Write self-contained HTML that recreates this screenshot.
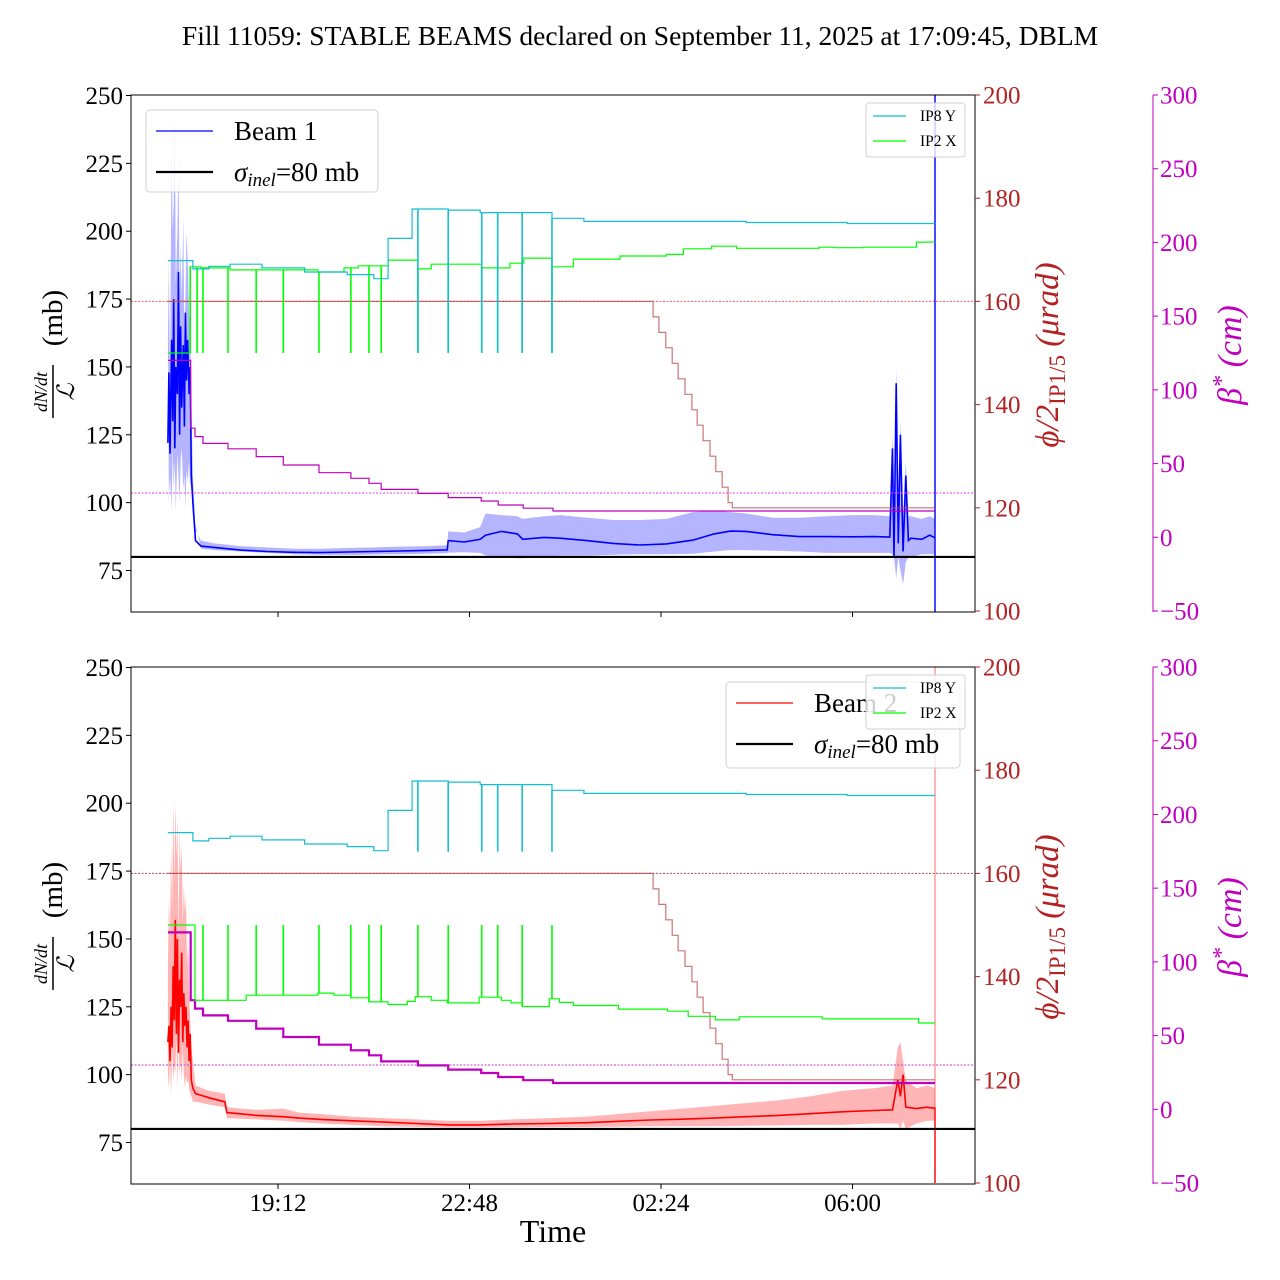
<!DOCTYPE html>
<html><head><meta charset="utf-8"><style>
html,body{margin:0;padding:0;background:#fff;}
svg{display:block;font-family:"Liberation Serif",serif;}
</style></head><body>
<svg id="chart" width="1280" height="1280" viewBox="0 0 1280 1280" xmlns="http://www.w3.org/2000/svg">
<defs>
<clipPath id="clipTop"><rect x="131" y="95" width="844" height="517"/></clipPath>
<clipPath id="clipBot"><rect x="131" y="667" width="844" height="516"/></clipPath>
</defs>
<rect width="1280" height="1280" fill="#fff"/>
<text x="640" y="45" font-size="27.5" text-anchor="middle">Fill 11059: STABLE BEAMS declared on September 11, 2025 at 17:09:45, DBLM</text>
<g id="layer"></g>
</svg>
<script>
// ---- data (time in hours since midnight Sep 11, >24 = next day) ----
const xTickVals = [19.2, 22.8, 26.4, 30.0];
const xTickLabels = ["19:12", "22:48", "02:24", "06:00"];
const mbTicks = [75, 100, 125, 150, 175, 200, 225, 250];
const phiTicks = [100, 120, 140, 160, 180, 200];
const betaTicks = [-50, 0, 50, 100, 150, 200, 250, 300];
const sigmaInel = 80;
const endT = 31.55;
const phiRef = 160;
const betaRef = 30;

const ip8yT = [17.13, 17.6, 17.9, 18.3, 18.9, 19.7, 20.5, 21.0, 21.27, 21.72, 22.4, 23.0, 24.35, 24.95, 28.0, 29.9];
const ip8yV = [167.9, 166.3, 166.8, 167.2, 166.5, 165.7, 165.2, 164.4, 172.2, 177.9, 177.7, 177.2, 176.1, 175.5, 175.3, 175.1];
const ip8ySpikeT = [21.83, 22.40, 23.03, 23.33, 23.79, 24.35];
const ip8ySpikeTop = 150;
const ip8ySpikeBot = 164.2;

const ip2xTopT = [17.13, 17.55, 17.75, 18.3, 19.95, 20.44, 20.71, 21.27, 21.83, 22.08, 23.03, 23.56, 23.82, 24.35, 24.75, 25.63, 26.5, 26.82, 27.35, 27.82, 29.37, 29.66, 30.19, 31.2];
const ip2xTopV = [150, 166.7, 166.5, 166.1, 165.7, 166.5, 166.9, 168.0, 166.3, 167.2, 166.5, 167.4, 168.4, 166.7, 168.2, 168.8, 169.1, 170.2, 170.7, 170.3, 170.5, 170.4, 170.5, 171.5];
const ip2xBotT = [17.13, 17.64, 18.6, 19.95, 20.25, 20.57, 20.91, 21.27, 21.63, 21.78, 22.08, 22.38, 22.98, 23.4, 23.58, 23.79, 24.3, 24.49, 24.75, 25.6, 26.52, 26.91, 27.42, 27.87, 29.43, 31.24];
const ip2xBotV = [150, 135.4, 136.4, 136.8, 136.4, 135.9, 135.1, 134.6, 135.2, 136.1, 135.4, 134.9, 136.0, 135.4, 134.9, 134.2, 135.7, 135.0, 134.4, 133.7, 133.3, 132.3, 131.6, 132.2, 131.8, 131.0];
const ip2xSpikeTopT = [17.55, 17.68, 17.79, 18.26, 18.79, 19.30, 19.97, 20.57, 20.91, 21.14, 21.83, 22.40, 23.03, 23.33, 23.79, 24.35];
const ip2xSpikeBotT = [17.79, 18.26, 18.79, 19.30, 19.97, 20.57, 20.91, 21.14, 21.83, 22.40, 23.03, 23.33, 23.79, 24.35];
const ip2xSpikeVal = 150;

const phiT = [17.13, 26.25, 26.36, 26.49, 26.61, 26.72, 26.85, 26.98, 27.08, 27.19, 27.32, 27.43, 27.55, 27.66, 27.74];
const phiV = [160, 157, 154, 151, 148, 145, 142, 139, 136, 133, 130, 127, 124, 121, 120];

const betaT = [17.13, 17.56, 17.64, 17.79, 18.26, 18.79, 19.3, 19.97, 20.57, 20.91, 21.14, 21.83, 22.4, 23.02, 23.34, 23.81, 24.37];
const betaV = [120, 74, 68.3, 63.7, 60, 54.7, 49, 43.8, 40, 36.6, 32.5, 29.8, 26.9, 24.6, 21.9, 19.7, 17.8];

const b1T = [17.13,17.15,17.17,17.20,17.22,17.24,17.26,17.28,17.31,17.33,17.35,17.37,17.39,17.42,17.44,17.46,17.48,17.50,17.53,17.55,17.57,
  17.6,17.65,17.75,18.0,18.5,19.0,19.5,20.0,20.5,21.0,21.5,22.0,22.38,22.40,22.7,23.0,23.1,23.4,23.7,23.8,24.2,24.5,25.0,25.5,26.0,26.5,27.0,27.4,27.7,28.0,28.5,29.0,29.5,30.0,30.4,30.7,30.75,30.78,30.82,30.86,30.9,30.95,31.0,31.05,31.1,31.3,31.45,31.55];
const b1V = [122,148,118,160,130,175,120,150,140,185,125,165,135,158,128,170,145,160,140,150,110,
  100,86,84,83.5,82.5,82,81.7,81.6,81.8,82,82.2,82.4,82.6,86,85.5,86.5,88,89.4,88.5,86.5,87.2,86.9,86,85,84.4,84.8,86.2,88.5,89.5,89.4,88.2,87.5,87.5,87.4,87.5,87.3,120,80,144,85,125,82,110,86,86.9,86.5,88,87];
const b1Hi = [160,190,140,235,200,210,248,180,200,230,170,195,175,205,160,175,200,190,170,165,140,
  110,90,86,85,84,83.5,83,83,83.3,83.5,83.8,84,84.3,89.4,89,91,96,95.4,95,94,95,95.4,94.5,93.6,93.6,94,96.5,97,96.5,96,94.4,94.4,95,95.4,95.4,95,125,95,150,100,130,95,115,95,95,94,95,94];
const b1Lo = [100,110,98,120,105,115,97,118,110,100,115,120,105,110,98,112,108,115,105,110,95,
  92,83,82.5,82,81.5,81,80.8,80.7,80.9,81,81.2,81.4,81.6,81.7,81.5,80.5,80,79.5,79.5,80,80.5,80.5,80.8,81,81,81.2,82,82.5,82.5,82.3,82,81.5,81.5,81.5,81.5,81,80,72,80,75,70,78,80,80,81,81,81];

const b2T = [17.13,17.15,17.17,17.19,17.21,17.23,17.25,17.27,17.29,17.31,17.33,17.35,17.37,17.39,17.41,17.43,17.45,17.47,17.49,17.51,17.53,17.55,17.57,17.60,
  17.65,17.9,18.2,18.24,18.8,19.3,19.6,20.0,20.6,21.2,21.8,22.4,23.0,23.6,24.3,25.0,25.6,26.2,26.8,27.4,28.0,28.6,29.2,29.8,30.4,30.75,30.85,30.9,30.95,31.0,31.2,31.4,31.55];
const b2V = [112,118,105,125,110,140,120,157,115,150,108,135,125,145,112,130,118,125,110,120,105,115,98,95,
  93,91.5,90,86,85,84.5,84,83.5,83,82.5,82,81.5,81.5,81.8,82,82.3,82.8,83.3,83.6,84,84.5,85,85.6,86.3,86.8,87,98,92,100,88,87.5,88,87.6];
const b2Hi = [140,165,150,185,160,202,170,200,180,195,150,190,175,185,155,170,160,165,140,150,130,120,110,105,
  96,94,93,88,87,87.5,86,85.5,84.5,84,83.5,83,83,83.5,84,84.5,85.5,86.5,87.5,88.5,89.5,90.5,92,94,95,96,110,112,105,98,95,96,95];
const b2Lo = [100,95,105,92,110,98,103,100,115,95,112,100,105,98,110,100,95,100,97,98,95,93,92,90,
  90,89,88,84,83.5,83,82.5,82,81.5,81,80.8,80.6,80.6,80.6,80.7,80.7,80.8,81,81,81,81.2,81.3,81.5,81.5,82,82,82,80,83,80,82,83,83];

// ---- scales ----
const X0 = 131, X1 = 975;
function xS(t){ return X0 + (t - 16.437) * 53.2; }
function mkPanel(top){
  return {
    top: top,
    yL: v => top + 0.5 + (250 - v) * 2.7143,
    yP: v => top + (200 - v) * 5.16,
    yB: v => top + (300 - v) * 1.4743
  };
}
const NS = "http://www.w3.org/2000/svg";
const layer = document.getElementById('layer');
function el(tag, attrs, parent, text){
  const e = document.createElementNS(NS, tag);
  for (const k in attrs) e.setAttribute(k, attrs[k]);
  if (text !== undefined) e.textContent = text;
  (parent || layer).appendChild(e);
  return e;
}
function stepAt(ts, vs, t){ let v = vs[0]; for (let i=0;i<ts.length;i++){ if (ts[i] <= t) v = vs[i]; } return v; }
function stepPath(ts, vs, tEnd, ys){
  let d = "M" + xS(ts[0]).toFixed(1) + " " + ys(vs[0]).toFixed(1);
  for (let i=1;i<ts.length;i++){
    d += " H" + xS(ts[i]).toFixed(1) + " V" + ys(vs[i]).toFixed(1);
  }
  d += " H" + xS(tEnd).toFixed(1);
  return d;
}
function linePts(ts, vs, ys){ return ts.map((t,i)=> xS(t).toFixed(1)+","+ys(vs[i]).toFixed(1)).join(" "); }

function drawPanel(p, opts){
  const g = el('g', {}, layer);
  
  
  const bottom = p.top + 517;
  const clip = el('g', {'clip-path': 'url(#' + opts.clip + ')'}, g);
  const bandPts = linePts(opts.bT, opts.bHi, p.yL) + " " + linePts(opts.bT.slice().reverse(), opts.bLo.slice().reverse(), p.yL);
  const band = el('polygon', {points: bandPts, fill: opts.bandColor, stroke: 'none'}, clip);
  
  
  const bl = el('polyline', {points: linePts(opts.bT, opts.bV, p.yL), fill: 'none', stroke: opts.beamColor, 'stroke-width': 1.6}, clip);
  
  
  const endL = el('line', {x1: xS(endT), x2: xS(endT), y1: p.top, y2: bottom, stroke: opts.bandColor, 'stroke-width': 2}, clip);
  
  
  const endS = el('line', {x1: xS(endT), x2: xS(endT), y1: opts.endSolidTop === null ? p.top : p.yL(opts.endSolidTop), y2: bottom, stroke: opts.beamColor, 'stroke-width': 1.5, opacity: 0.8}, clip);
  
  
  const sl = el('line', {x1: X0, x2: X1, y1: p.yL(sigmaInel), y2: p.yL(sigmaInel), stroke: '#000', 'stroke-width': 2.2}, g);
  
  
  const r1 = el('line', {x1: X0, x2: X1, y1: p.yP(phiRef), y2: p.yP(phiRef), stroke: opts.refPhiColor, 'stroke-width': 1, 'stroke-dasharray': '2,1.5'}, g);
  
  
  const r2 = el('line', {x1: X0, x2: X1, y1: p.yB(betaRef), y2: p.yB(betaRef), stroke: opts.refBetaColor, 'stroke-width': 1, 'stroke-dasharray': '2,1.5'}, g);
  
  
  const ph = el('path', {d: stepPath(phiT, phiV, endT, p.yP), fill: 'none', stroke: 'rgba(190,70,70,0.75)', 'stroke-width': 1.2}, g);
  
  
  const bt = el('path', {d: stepPath(betaT, betaV, endT, p.yB), fill: 'none', stroke: '#bf00bf', 'stroke-width': opts.betaWidth}, g);
  
  
  const gr = el('path', {d: stepPath(opts.ip2T, opts.ip2V, endT, p.yP), fill: 'none', stroke: '#00ff00', 'stroke-width': 1.2}, g);
  
  
  opts.ip2Spikes.forEach(t => {
    const s = el('line', {x1: xS(t), x2: xS(t), y1: p.yP(stepAt(opts.ip2T, opts.ip2V, t)), y2: p.yP(ip2xSpikeVal), stroke: '#00ff00', 'stroke-width': 1.6}, g);
    
    
  });
  const cy = el('path', {d: stepPath(ip8yT, ip8yV, endT, p.yP), fill: 'none', stroke: '#17becf', 'stroke-width': 1.2}, g);
  
  
  ip8ySpikeT.forEach(t => {
    const s = el('line', {x1: xS(t), x2: xS(t), y1: p.yP(stepAt(ip8yT, ip8yV, t)), y2: p.yP(opts.ip8Spike), stroke: '#17becf', 'stroke-width': 1.6}, g);
    
    
  });
  const fr = el('rect', {x: X0, y: p.top, width: X1 - X0, height: 517, fill: 'none', stroke: '#000', 'stroke-width': 1}, g);
  
  
  mbTicks.forEach(v => {
    const y = p.yL(v);
    el('line', {x1: X0 - 5, x2: X0, y1: y, y2: y, stroke: '#000'}, g);
    const t = el('text', {x: 123, y: y + 8.5, 'font-size': 25, 'text-anchor': 'end'}, g, String(v));
    
    
  });
  phiTicks.forEach(v => {
    const y = p.yP(v);
    el('line', {x1: X1, x2: X1 + 5, y1: y, y2: y, stroke: '#b22222'}, g);
    const t = el('text', {x: 983, y: y + 8.5, 'font-size': 25, fill: '#b22222'}, g, String(v));
    
    
  });
  const bs = el('line', {x1: 1153, x2: 1153, y1: p.top, y2: bottom, stroke: '#bf00bf', 'stroke-width': 1}, g);
  
  
  betaTicks.forEach(v => {
    const y = p.yB(v);
    el('line', {x1: 1153, x2: 1158, y1: y, y2: y, stroke: '#bf00bf'}, g);
    const t = el('text', {x: 1160, y: y + 8.5, 'font-size': 25, fill: '#bf00bf'}, g, v < 0 ? '\u2212' + Math.abs(v) : String(v));
    
    
  });
  xTickVals.forEach((v, i) => {
    const x = xS(v);
    el('line', {x1: x, x2: x, y1: bottom, y2: bottom + 5, stroke: '#000'}, g);
    if (opts.xLabels){
      const t = el('text', {x: x, y: bottom + 27, 'font-size': 25, 'text-anchor': 'middle'}, g, xTickLabels[i]);
      
      
    }
  });
  const yl = el('g', {transform: 'translate(53,' + (p.top + 260) + ') rotate(-90)'}, g);
  
  
  el('text', {x: -37, y: -6, 'font-size': 18, 'font-style': 'italic', 'text-anchor': 'middle'}, yl, 'dN/dt');
  el('line', {x1: -63, x2: -10, y1: 0, y2: 0, stroke: '#000', 'stroke-width': 1.5}, yl);
  el('text', {x: -37, y: 21, 'font-size': 24, 'font-style': 'italic', 'text-anchor': 'middle'}, yl, '\u2112');
  el('text', {x: 37, y: 9, 'font-size': 29, 'text-anchor': 'middle'}, yl, '(mb)');
  const pl = el('text', {transform: 'translate(1058,' + (p.top + 260) + ') rotate(-90)', 'font-size': 33, fill: '#b22222', 'text-anchor': 'middle'}, g);
  
  
  el('tspan', {'font-style': 'italic'}, pl, '\u03d5/2');
  el('tspan', {'font-size': 23, dy: 7}, pl, 'IP1/5');
  el('tspan', {dy: -7, 'font-style': 'italic'}, pl, ' (\u03bcrad)');
  const blb = el('text', {transform: 'translate(1241,' + (p.top + 260) + ') rotate(-90)', 'font-size': 34, fill: '#bf00bf', 'text-anchor': 'middle', 'font-style': 'italic'}, g);
  
  
  el('tspan', {}, blb, '\u03b2');
  el('tspan', {'font-size': 24, dy: -12}, blb, '*');
  el('tspan', {dy: 12}, blb, ' (cm)');
  return g;
}

function bigLegend(x, y, w, h, label, color, name){
  const g = el('g', {}, layer);
  
  
  el('rect', {x: x, y: y, width: w, height: h, rx: 4, fill: 'rgba(255,255,255,0.8)', stroke: '#d0d0d0'}, g);
  el('line', {x1: x + 10, x2: x + 67, y1: y + 21, y2: y + 21, stroke: color, 'stroke-width': 1.3}, g);
  el('text', {x: x + 88, y: y + 30, 'font-size': 27}, g, label);
  el('line', {x1: x + 10, x2: x + 67, y1: y + 62, y2: y + 62, stroke: '#000', 'stroke-width': 2.2}, g);
  const t = el('text', {x: x + 88, y: y + 71, 'font-size': 27}, g);
  el('tspan', {'font-style': 'italic'}, t, '\u03c3');
  el('tspan', {'font-style': 'italic', 'font-size': 19, dy: 5}, t, 'inel');
  el('tspan', {dy: -5}, t, '=80 mb');
}
function smallLegend(x, y, name){
  const g = el('g', {}, layer);
  
  
  el('rect', {x: x, y: y, width: 99, height: 54, rx: 3, fill: 'rgba(255,255,255,0.8)', stroke: '#d0d0d0'}, g);
  el('line', {x1: x + 7, x2: x + 40, y1: y + 13, y2: y + 13, stroke: '#17becf', 'stroke-width': 1.2}, g);
  el('text', {x: x + 54, y: y + 18, 'font-size': 15.5}, g, 'IP8 Y');
  el('line', {x1: x + 7, x2: x + 40, y1: y + 38, y2: y + 38, stroke: '#00ff00', 'stroke-width': 1.2}, g);
  el('text', {x: x + 54, y: y + 43, 'font-size': 15.5}, g, 'IP2 X');
}

const pTop = mkPanel(95), pBot = mkPanel(667);
drawPanel(pTop, {name: 'top-panel', clip: 'clipTop', bT: b1T, bV: b1V, bHi: b1Hi, bLo: b1Lo, beamColor: '#0000ff', bandColor: 'rgba(70,70,255,0.4)', beamKey: 'beam1', endSolidTop: null,
  refPhiColor: '#e06060', refBetaColor: '#e040e0', betaWidth: 1.2, ip2T: ip2xTopT, ip2V: ip2xTopV, ip2Spikes: ip2xSpikeTopT, ip8Spike: ip8ySpikeTop, xLabels: false});
drawPanel(pBot, {name: 'bottom-panel', clip: 'clipBot', bT: b2T, bV: b2V, bHi: b2Hi, bLo: b2Lo, beamColor: '#ff0000', bandColor: 'rgba(255,90,90,0.45)', beamKey: 'beam2', endSolidTop: 88,
  refPhiColor: '#a05050', refBetaColor: '#c040c0', betaWidth: 2.2, ip2T: ip2xBotT, ip2V: ip2xBotV, ip2Spikes: ip2xSpikeBotT, ip8Spike: ip8ySpikeBot, xLabels: true});

bigLegend(146, 110, 232, 82, 'Beam 1', '#0000ff', 'beam1-legend');
smallLegend(866, 103, 'ip-legend-top');
bigLegend(726, 682, 234, 86, 'Beam 2', '#ff0000', 'beam2-legend');
smallLegend(866, 675, 'ip-legend-bottom');

const xt = el('text', {x: 553, y: 1242, 'font-size': 32, 'text-anchor': 'middle'}, layer, 'Time');


</script>
</body></html>
